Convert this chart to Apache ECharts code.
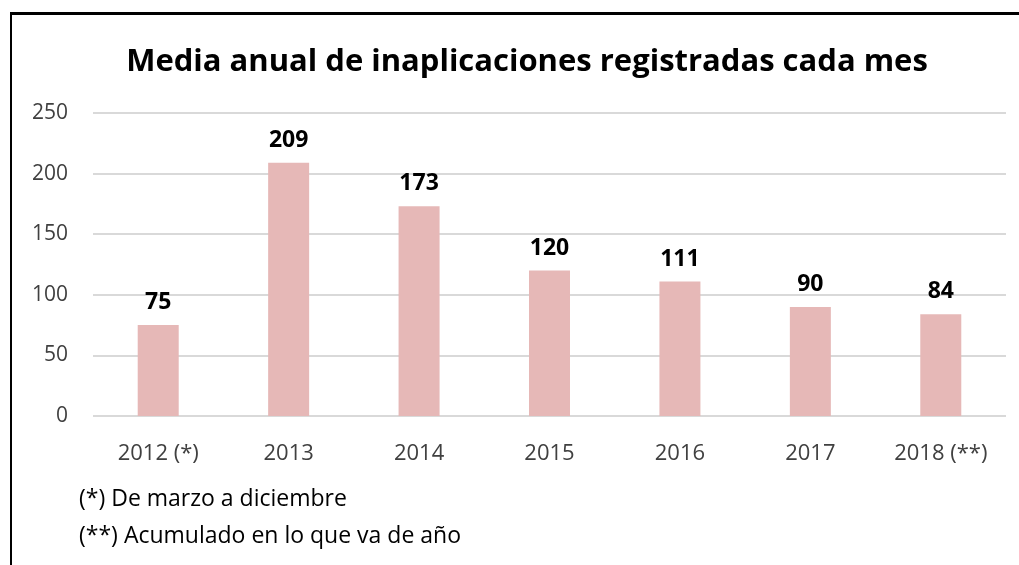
<!DOCTYPE html>
<html>
<head>
<meta charset="utf-8">
<script src="https://cdn.jsdelivr.net/npm/echarts@6/dist/echarts.min.js"></script>
<style>
  html, body { margin: 0; padding: 0; background: #fff; }
  #frame { position: absolute; left: 10px; top: 12px; width: 1009px; height: 553px;
           border-top: 3px solid #000; border-left: 2px solid #000; box-sizing: border-box; }
  #chart { position: absolute; left: 0; top: 0; width: 1019px; height: 565px; }
</style>
</head>
<body>
<div id="frame"></div>
<div id="chart"></div>
<script>
const years = ['2012 (*)', '2013', '2014', '2015', '2016', '2017', '2018 (**)']
const values = [75, 209, 173, 120, 111, 90, 84]
const notes = ['(*) De marzo a diciembre', '(**) Acumulado en lo que va de año']

const font = '"Open Sans", sans-serif'
const chart = echarts.init(document.getElementById('chart'))
chart.setOption({
  animation: false,
  title: {
    text: 'Media anual de inaplicaciones registradas cada mes',
    left: 522,
    textAlign: 'center',
    top: 42,
    textStyle: { fontFamily: font, fontSize: 31, fontWeight: 'bold', color: '#000' },
  },
  grid: { left: 93, right: 13, top: 113, bottom: 149 },
  xAxis: {
    type: 'category',
    data: years,
    axisLine: { show: false },
    axisTick: { show: false },
    axisLabel: { color: '#404040', fontFamily: font, fontSize: 22, margin: 27 },
  },
  yAxis: {
    type: 'value',
    min: 0,
    max: 250,
    interval: 50,
    axisLine: { show: false },
    axisTick: { show: false },
    axisLabel: { color: '#404040', fontFamily: font, fontSize: 21, margin: 25 },
    splitLine: { lineStyle: { color: '#d9d9d9', width: 2 } },
  },
  series: [{
    type: 'bar',
    data: values,
    barWidth: 41,
    itemStyle: { color: '#e6b8b7' },
    label: {
      show: true,
      position: 'top',
      distance: 11,
      color: '#000',
      fontFamily: font,
      fontSize: 23,
      fontWeight: 'bold',
    },
  }],
  graphic: notes.map((t, i) => ({
    type: 'text',
    left: 79,
    top: 488 + i * 37,
    style: { text: t, fill: '#000', font: '23px ' + font },
  })),
})
</script>
</body>
</html>
